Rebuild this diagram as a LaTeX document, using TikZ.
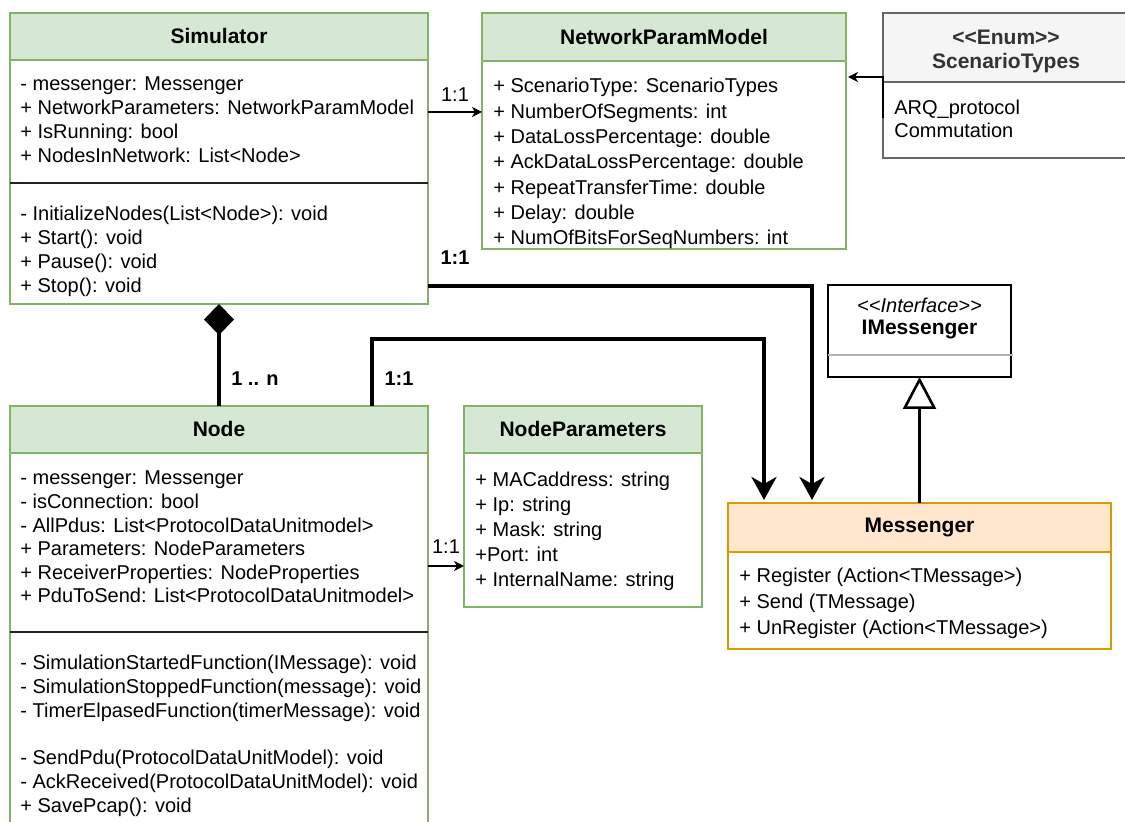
\documentclass[tikz,border=0pt]{standalone}
\usepackage{fontspec}
\setmainfont{Liberation Sans}
\usetikzlibrary{arrows.meta}
\definecolor{gfill}{HTML}{D5E8D4}
\definecolor{gline}{HTML}{82B366}
\definecolor{ofill}{HTML}{FFE6CC}
\definecolor{oline}{HTML}{D79B00}
\definecolor{efill}{HTML}{F5F5F5}
\definecolor{eline}{HTML}{666666}
\definecolor{etext}{HTML}{333333}
\definecolor{divc}{HTML}{222222}
\definecolor{idiv}{HTML}{B3B3B3}
\tikzset{
  box/.style={rectangle, anchor=north west, inner sep=0pt, outer sep=0pt, line width=1pt, fill=white},
  gbox/.style={box, draw=gline},
  ghdr/.style={box, draw=gline, fill=gfill, font=\bfseries\fontsize{10.5}{12}\selectfont},
  obox/.style={box, draw=oline},
  ohdr/.style={box, draw=oline, fill=ofill, font=\bfseries\fontsize{10.5}{12}\selectfont},
  ebox/.style={box, draw=eline},
  ehdr/.style={box, draw=eline, fill=efill},
  etxt/.style={inner sep=0pt, text=etext, align=center, font=\bfseries\fontsize{10.5}{12}\selectfont},
  kbox/.style={box, draw=black},
  ln/.style={anchor=base west, inner sep=0pt, font=\fontsize{10}{12}\selectfont},
  lbl/.style={inner sep=0pt, font=\fontsize{10}{12}\selectfont},
  blbl/.style={inner sep=0pt, font=\bfseries\fontsize{10}{12}\selectfont},
  thinarr/.style={line width=0.75pt, -{Stealth[length=5pt,width=5pt,inset=1.5pt]}},
  thickarr/.style={line width=1.8pt, -{Stealth[length=11.5pt,width=12.5pt,inset=3.5pt]}, shorten >=1.5pt},
  divline/.style={line width=1pt, draw=divc},
}
\begin{document}
\begin{tikzpicture}[x=0.5pt,y=-0.5pt]
\useasboundingbox (0,0) rectangle (1125,822);
\begin{scope}
\clip (0,0) rectangle (1125,822);
\fill[white] (0,0) rectangle (1125,822);

% ---------------- Simulator
\node[gbox, minimum width=209pt, minimum height=145.5pt] (sim) at (10,13) {};
\node[ghdr, minimum width=209pt, minimum height=23.5pt] (simh) at (10,13) {Simulator};
\draw[divline] ([yshift=-85pt]sim.north west) -- ([yshift=-85pt]sim.north east);
\foreach \t [count=\i from 0] in {{- messenger: Messenger},{+ NetworkParameters: NetworkParamModel},{+ IsRunning: bool},{+ NodesInNetwork: List<Node>}}
  \node[ln] (sa\i) at (20,{91+24*\i}) {\t};
\foreach \t [count=\i from 0] in {{- InitializeNodes(List<Node>): void},{+ Start(): void},{+ Pause(): void},{+ Stop(): void}}
  \node[ln] (sm\i) at (20,{221+24*\i}) {\t};

% ---------------- NetworkParamModel
\node[gbox, minimum width=182pt, minimum height=118pt] (npm) at (482,13) {};
\node[ghdr, minimum width=182pt, minimum height=24pt] (npmh) at (482,13) {NetworkParamModel};
\foreach \t [count=\i from 0] in {{+ ScenarioType: ScenarioTypes},{+ NumberOfSegments: int},{+ DataLossPercentage: double},{+ AckDataLossPercentage: double},{+ RepeatTransferTime: double},{+ Delay: double},{+ NumOfBitsForSeqNumbers: int}}
  \node[ln] (na\i) at (493,{93+25.33*\i}) {\t};

% ---------------- ScenarioTypes
\node[ebox, minimum width=123pt, minimum height=72.5pt] (scen) at (883,13) {};
\node[ehdr, minimum width=123pt, minimum height=34.5pt] (scenh) at (883,13) {};
\node[etxt] (scent) at (1006,51) {<{}<Enum>{}>\\ScenarioTypes};
\node[ln] (sc0) at (894,115) {ARQ\_protocol};
\node[ln] (sc1) at (894,138) {Commutation};

% ---------------- IMessenger
\node[kbox, minimum width=91.5pt, minimum height=46pt] (imsg) at (828,285) {};
\draw[line width=1pt, idiv] ([yshift=-35pt]imsg.north west) -- ([yshift=-35pt,xshift=1pt]imsg.north east);
\node[lbl, font=\itshape\fontsize{10}{12}\selectfont] (imsgs) at (919.5,305) {<{}<Interface>{}>};
\node[blbl, font=\bfseries\fontsize{10.5}{12}\selectfont] (imsgt) at (919.5,330) {IMessenger};

% ---------------- Messenger
\node[obox, minimum width=191.5pt, minimum height=73pt] (msg) at (728,503) {};
\node[ohdr, minimum width=191.5pt, minimum height=24.5pt] (msgh) at (728,503) {Messenger};
\foreach \t [count=\i from 0] in {{+ Register (Action<TMessage>)},{+ Send (TMessage)},{+ UnRegister (Action<TMessage>)}}
  \node[ln] (ma\i) at (739,{583+26*\i}) {\t};

% ---------------- Node
\node[gbox, minimum width=209pt, minimum height=212pt] (node) at (10,406) {};
\node[ghdr, minimum width=209pt, minimum height=23.5pt] (nodeh) at (10,406) {Node};
\draw[divline] ([yshift=-113pt]node.north west) -- ([yshift=-113pt]node.north east);
\foreach \t [count=\i from 0] in {{- messenger: Messenger},{- isConnection: bool},{- AllPdus: List<ProtocolDataUnitmodel>},{+ Parameters: NodeParameters},{+ ReceiverProperties: NodeProperties},{+ PduToSend: List<ProtocolDataUnitmodel>}}
  \node[ln] (da\i) at (20,{485+23.6*\i}) {\t};
\foreach \t [count=\i from 0] in {{- SimulationStartedFunction(IMessage): void},{- SimulationStoppedFunction(message): void},{- TimerElpasedFunction(timerMessage): void},{},{- SendPdu(ProtocolDataUnitModel): void},{- AckReceived(ProtocolDataUnitModel): void},{+ SavePcap(): void}}
  \node[ln] (dm\i) at (20,{670+23.67*\i}) {\t};

% ---------------- NodeParameters
\node[gbox, minimum width=119pt, minimum height=100.5pt] (np) at (464,406) {};
\node[ghdr, minimum width=119pt, minimum height=23.5pt] (nph) at (464,406) {NodeParameters};
\foreach \t [count=\i from 0] in {{+ MACaddress: string},{+ Ip: string},{+ Mask: string},{+Port: int},{+ InternalName: string}}
  \node[ln] (pa\i) at (475,{487+25*\i}) {\t};

% ---------------- Connectors
\draw[thinarr] ([yshift=-49.5pt]sim.north east) -- ([yshift=-49.5pt]npm.north west);
\draw[thinarr] ([yshift=-80pt]node.north east) -- ([yshift=-80pt]np.north west);
\draw[thinarr] ([yshift=-52.5pt]scen.north west) |- ([yshift=-32pt,xshift=1pt]npm.north east);
\draw[thickarr] ([yshift=9pt]sim.south east) -| ([xshift=42pt]msg.north west);
\draw[thickarr] ([xshift=181pt]node.north west) -- ++(0,-67) -| ([xshift=18pt]msg.north west);
\draw[line width=1.8pt, -{Diamond[length=15.5pt,width=15pt]}] (node.north) -- (sim.south);
\draw[line width=1.8pt, -{Triangle[open,length=16pt,width=16.5pt,fill=white,line width=1.3pt]}] (msg.north) -- (imsg.south);

% ---------------- Labels
\node[lbl] (l1) at (455,95) {1:1};
\node[blbl] (l2) at (455,258) {1:1};
\node[blbl] (l3) at (255,379) {1 .. n};
\node[blbl] (l4) at (399,379) {1:1};
\node[lbl] (l5) at (446,547) {1:1};
\end{scope}
\end{tikzpicture}
\end{document}
